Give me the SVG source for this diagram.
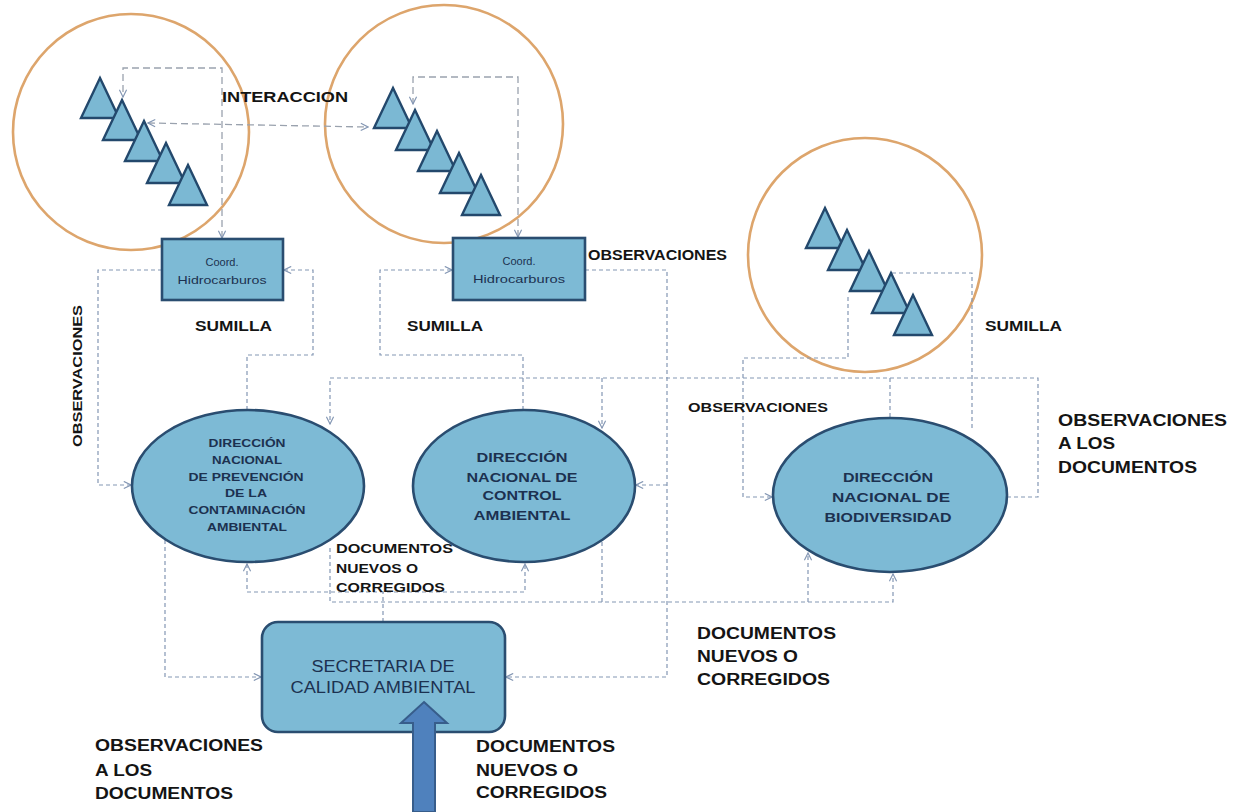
<svg xmlns="http://www.w3.org/2000/svg" xmlns:xlink="http://www.w3.org/1999/xlink" width="1236" height="812" viewBox="0 0 1236 812">
  <defs>
    <style>
      .ring { fill: none; stroke: #DDA56C; stroke-width: 2.6; }
      .tri { fill: #7BB8D3; stroke: #23486C; stroke-width: 2.4; stroke-linejoin: miter; }
      .node { fill: #7DBAD5; stroke: #2A4D70; stroke-width: 2.6; }
      .link { fill: none; stroke: #8497B4; stroke-width: 1.2; stroke-dasharray: 4 3; }
      .link-long { fill: none; stroke: #9AA2AE; stroke-width: 1.3; stroke-dasharray: 7 4; }
      .ntext { font-family: "Liberation Sans", Arial, sans-serif; fill: #1C3150; text-anchor: middle; }
      .nb { font-weight: bold; }
      .lbl { font-family: "Liberation Sans", Arial, sans-serif; font-weight: bold; fill: #141414; }
    </style>
    <marker id="arr" viewBox="0 0 10 10" refX="9" refY="5" markerWidth="9" markerHeight="9" markerUnits="userSpaceOnUse" orient="auto-start-reverse">
      <path d="M1,1 L9,5 L1,9" fill="none" stroke="#8497B4" stroke-width="1.3"/>
    </marker>
    <!-- five overlapping triangles stepping down to the right -->
    <g id="stair">
      <polygon class="tri" points="0,0 19,40 -19,40"/>
      <polygon class="tri" points="22,22 41,62 3,62"/>
      <polygon class="tri" points="44,43 63,83 25,83"/>
      <polygon class="tri" points="66,65 85,105 47,105"/>
      <polygon class="tri" points="88,87 107,127 69,127"/>
    </g>
  </defs>

  <rect width="1236" height="812" fill="#FFFFFF"/>

  <!-- group rings -->
  <g id="ring-1"><circle class="ring" cx="131" cy="132" r="118"/></g>
  <g id="ring-2"><circle class="ring" cx="444" cy="124" r="119"/></g>
  <g id="ring-3"><circle class="ring" cx="865" cy="255" r="117"/></g>

  <!-- connectors -->
  <g id="connectors">
    <path class="link-long" d="M222,238 V68 H123 V97" marker-start="url(#arr)" marker-end="url(#arr)"/>
    <path class="link-long" d="M148,123 L368,127" marker-start="url(#arr)" marker-end="url(#arr)"/>
    <path class="link-long" d="M518,237 V77 H413 V104" marker-start="url(#arr)" marker-end="url(#arr)"/>

    <path class="link" d="M162,270 H98 V485 H131" marker-end="url(#arr)"/>
    <path class="link" d="M247,410 V355 H313 V270 H284" marker-end="url(#arr)"/>
    <path class="link" d="M523,410 V355 H380 V270 H452" marker-end="url(#arr)"/>

    <path class="link" d="M1007,497 H1038 V378 H330 V424" marker-end="url(#arr)"/>
    <path class="link" d="M602,378 V428" marker-end="url(#arr)"/>
    <path class="link" d="M602,542 V602"/>
    <path class="link" d="M890,378 V418"/>
    <path class="link" d="M892,273 H972 V430"/>
    <path class="link" d="M848,297 V358 H743 V497 H772" marker-end="url(#arr)"/>

    <path class="link" d="M585,270 H667 V677 H506" marker-end="url(#arr)"/>
    <path class="link" d="M667,485 H636" marker-end="url(#arr)"/>

    <path class="link" d="M247,564 V592 H525 V564" marker-start="url(#arr)" marker-end="url(#arr)"/>
    <path class="link" d="M330,548 V602 H893 V574" marker-end="url(#arr)"/>
    <path class="link" d="M808,602 V553" marker-end="url(#arr)"/>
    <path class="link" d="M383,622 V592"/>
    <path class="link" d="M165,540 V677 H261" marker-end="url(#arr)"/>
  </g>

  <!-- triangle stairs inside the rings -->
  <g id="stair-1"><use xlink:href="#stair" href="#stair" x="100" y="78"/></g>
  <g id="stair-2"><use xlink:href="#stair" href="#stair" x="393" y="88"/></g>
  <g id="stair-3"><use xlink:href="#stair" href="#stair" x="825" y="208"/></g>

  <!-- coordination boxes -->
  <g id="coord-1">
    <rect class="node" x="162" y="239" width="121" height="61"/>
    <text class="ntext" x="222" y="266" font-size="11">Coord.</text>
    <text class="ntext" x="222" y="284" font-size="11" textLength="89" lengthAdjust="spacingAndGlyphs">Hidrocarburos</text>
  </g>
  <g id="coord-2">
    <rect class="node" x="453" y="238" width="132" height="62"/>
    <text class="ntext" x="519" y="265" font-size="11">Coord.</text>
    <text class="ntext" x="519" y="283" font-size="11" textLength="92" lengthAdjust="spacingAndGlyphs">Hidrocarburos</text>
  </g>

  <!-- directorates -->
  <g id="dir-prevencion">
    <ellipse class="node" cx="248" cy="486" rx="116" ry="76"/>
    <g class="ntext nb" font-size="11">
      <text x="247" y="447" textLength="77" lengthAdjust="spacingAndGlyphs">DIRECCIÓN</text>
      <text x="247" y="464" textLength="70" lengthAdjust="spacingAndGlyphs">NACIONAL</text>
      <text x="246" y="481" textLength="115" lengthAdjust="spacingAndGlyphs">DE PREVENCIÓN</text>
      <text x="246" y="497" textLength="42" lengthAdjust="spacingAndGlyphs">DE LA</text>
      <text x="247" y="514" textLength="117" lengthAdjust="spacingAndGlyphs">CONTAMINACIÓN</text>
      <text x="247" y="531" textLength="80" lengthAdjust="spacingAndGlyphs">AMBIENTAL</text>
    </g>
  </g>
  <g id="dir-control">
    <ellipse class="node" cx="524" cy="486" rx="111" ry="76"/>
    <g class="ntext nb" font-size="13">
      <text x="522" y="462" textLength="91" lengthAdjust="spacingAndGlyphs">DIRECCIÓN</text>
      <text x="522" y="482" textLength="111" lengthAdjust="spacingAndGlyphs">NACIONAL DE</text>
      <text x="522" y="500" textLength="79" lengthAdjust="spacingAndGlyphs">CONTROL</text>
      <text x="522" y="520" textLength="97" lengthAdjust="spacingAndGlyphs">AMBIENTAL</text>
    </g>
  </g>
  <g id="dir-biodiversidad">
    <ellipse class="node" cx="890" cy="495" rx="117" ry="77"/>
    <g class="ntext nb" font-size="13">
      <text x="888" y="482" textLength="90" lengthAdjust="spacingAndGlyphs">DIRECCIÓN</text>
      <text x="891" y="502" textLength="118" lengthAdjust="spacingAndGlyphs">NACIONAL DE</text>
      <text x="888" y="522" textLength="127" lengthAdjust="spacingAndGlyphs">BIODIVERSIDAD</text>
    </g>
  </g>

  <!-- secretariat -->
  <g id="secretaria">
    <rect class="node" x="262" y="622" width="243" height="110" rx="16" ry="16"/>
    <text class="ntext" x="383" y="672" font-size="16" textLength="143" lengthAdjust="spacingAndGlyphs">SECRETARIA DE</text>
    <text class="ntext" x="383" y="693" font-size="16" textLength="185" lengthAdjust="spacingAndGlyphs">CALIDAD AMBIENTAL</text>
  </g>

  <!-- incoming block arrow -->
  <g id="entrada">
    <polygon points="424,702 447,723 435,723 435,812 413,812 413,723 401,723" fill="#4F81BD" stroke="#375D8B" stroke-width="2"/>
  </g>

  <!-- labels -->
  <g id="labels" font-size="14">
    <text class="lbl" x="222" y="102" textLength="126" lengthAdjust="spacingAndGlyphs">INTERACCION</text>
    <text class="lbl" x="588" y="260" textLength="139" lengthAdjust="spacingAndGlyphs">OBSERVACIONES</text>
    <text class="lbl" x="195" y="331" textLength="77" lengthAdjust="spacingAndGlyphs">SUMILLA</text>
    <text class="lbl" x="407" y="331" textLength="76" lengthAdjust="spacingAndGlyphs">SUMILLA</text>
    <text class="lbl" x="985" y="331" textLength="77" lengthAdjust="spacingAndGlyphs">SUMILLA</text>
    <text class="lbl" transform="translate(82,447) rotate(-90)" x="0" y="0" font-size="13" textLength="142" lengthAdjust="spacingAndGlyphs">OBSERVACIONES</text>
    <text class="lbl" x="688" y="412" font-size="13" textLength="140" lengthAdjust="spacingAndGlyphs">OBSERVACIONES</text>

    <g font-size="16">
      <text class="lbl" x="1058" y="426" textLength="169" lengthAdjust="spacingAndGlyphs">OBSERVACIONES</text>
      <text class="lbl" x="1058" y="449" textLength="57" lengthAdjust="spacingAndGlyphs">A LOS</text>
      <text class="lbl" x="1058" y="473" textLength="139" lengthAdjust="spacingAndGlyphs">DOCUMENTOS</text>
    </g>

    <g font-size="13">
      <text class="lbl" x="336" y="553" textLength="117" lengthAdjust="spacingAndGlyphs">DOCUMENTOS</text>
      <text class="lbl" x="336" y="573" textLength="82" lengthAdjust="spacingAndGlyphs">NUEVOS O</text>
      <text class="lbl" x="336" y="592" textLength="109" lengthAdjust="spacingAndGlyphs">CORREGIDOS</text>
    </g>

    <g font-size="16">
      <text class="lbl" x="697" y="639" textLength="139" lengthAdjust="spacingAndGlyphs">DOCUMENTOS</text>
      <text class="lbl" x="697" y="662" textLength="101" lengthAdjust="spacingAndGlyphs">NUEVOS O</text>
      <text class="lbl" x="697" y="685" textLength="133" lengthAdjust="spacingAndGlyphs">CORREGIDOS</text>
    </g>

    <g font-size="16">
      <text class="lbl" x="95" y="751" textLength="168" lengthAdjust="spacingAndGlyphs">OBSERVACIONES</text>
      <text class="lbl" x="95" y="776" textLength="57" lengthAdjust="spacingAndGlyphs">A LOS</text>
      <text class="lbl" x="95" y="799" textLength="138" lengthAdjust="spacingAndGlyphs">DOCUMENTOS</text>
    </g>

    <g font-size="16">
      <text class="lbl" x="476" y="752" textLength="139" lengthAdjust="spacingAndGlyphs">DOCUMENTOS</text>
      <text class="lbl" x="476" y="776" textLength="102" lengthAdjust="spacingAndGlyphs">NUEVOS O</text>
      <text class="lbl" x="476" y="798" textLength="131" lengthAdjust="spacingAndGlyphs">CORREGIDOS</text>
    </g>
  </g>
</svg>
